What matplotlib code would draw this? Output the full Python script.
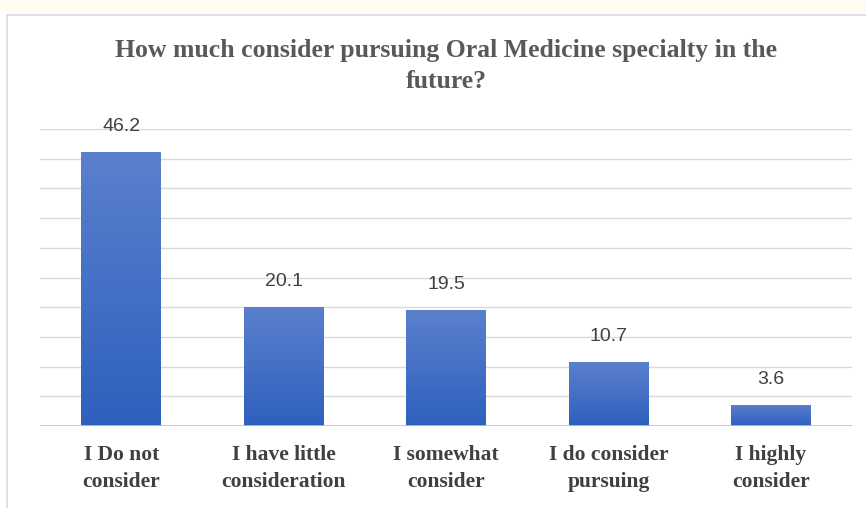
import numpy as np
import matplotlib.pyplot as plt
from matplotlib.patches import Rectangle
from matplotlib.colors import LinearSegmentedColormap

categories = ['I Do not\nconsider', 'I have little\nconsideration', 'I somewhat\nconsider',
              'I do consider\npursuing', 'I highly\nconsider']
values = [46.2, 20.1, 19.5, 10.7, 3.6]

fig = plt.figure(figsize=(8.66, 5.08), dpi=100)
fig.patch.set_facecolor('white')

# pale strip along the top and the chart frame
fig.patches.append(Rectangle((0, 1 - 12/508), 1, 12/508, transform=fig.transFigure,
                             facecolor='#fffdf0', edgecolor='none', zorder=-1))
fig.patches.append(Rectangle((7/866, -0.05), 1.0, 1 - 15/508 + 0.05, transform=fig.transFigure,
                             facecolor='none', edgecolor='#d9d9d9', linewidth=1.2, zorder=-1))

ax = fig.add_axes([40/866, 1 - 426/508, (852 - 40)/866, (426 - 129)/508])
ax.set_facecolor('none')

for y in np.arange(5, 51, 5):
    ax.axhline(y, color='#d9d9d9', linewidth=1, zorder=1)
ax.axhline(0, color='#bfbfbf', linewidth=1.2, zorder=3)

x = np.arange(len(values))
bars = ax.bar(x, values, width=0.49, color='none', zorder=2)

# vertical gradient fill for each bar
grad = np.linspace(0, 1, 256).reshape(-1, 1)
cmap = LinearSegmentedColormap.from_list('bluegrad', ['#2e60be', '#5b80cd'])
for b in bars:
    x0, w, h = b.get_x(), b.get_width(), b.get_height()
    im = ax.imshow(grad, extent=[x0, x0 + w, 0, h], origin='lower', aspect='auto',
                   cmap=cmap, zorder=2)
    im.set_clip_path(b)

for xi, v in zip(x, values):
    ax.text(xi, v + 4.3, f'{v:.1f}', ha='center', va='center', fontsize=14,
            color='#404040', family='Liberation Sans')

ax.set_ylim(0, 50)
ax.set_xlim(-0.5, len(values) - 0.5)
ax.set_xticks(x)
ax.set_xticklabels(categories, fontsize=15.5, fontweight='bold', family='Liberation Serif',
                   color='#404040', linespacing=1.45)
ax.tick_params(axis='x', length=0, pad=14)
ax.set_yticks([])
for s in ax.spines.values():
    s.set_visible(False)

fig.text(446/866, 1 - 66/508,
         'How much consider pursuing Oral Medicine specialty in the\nfuture?',
         ha='center', va='center', fontsize=18.5, fontweight='bold',
         family='Liberation Serif', color='#595959', linespacing=1.45)

fig.savefig('out.png', dpi=100)
